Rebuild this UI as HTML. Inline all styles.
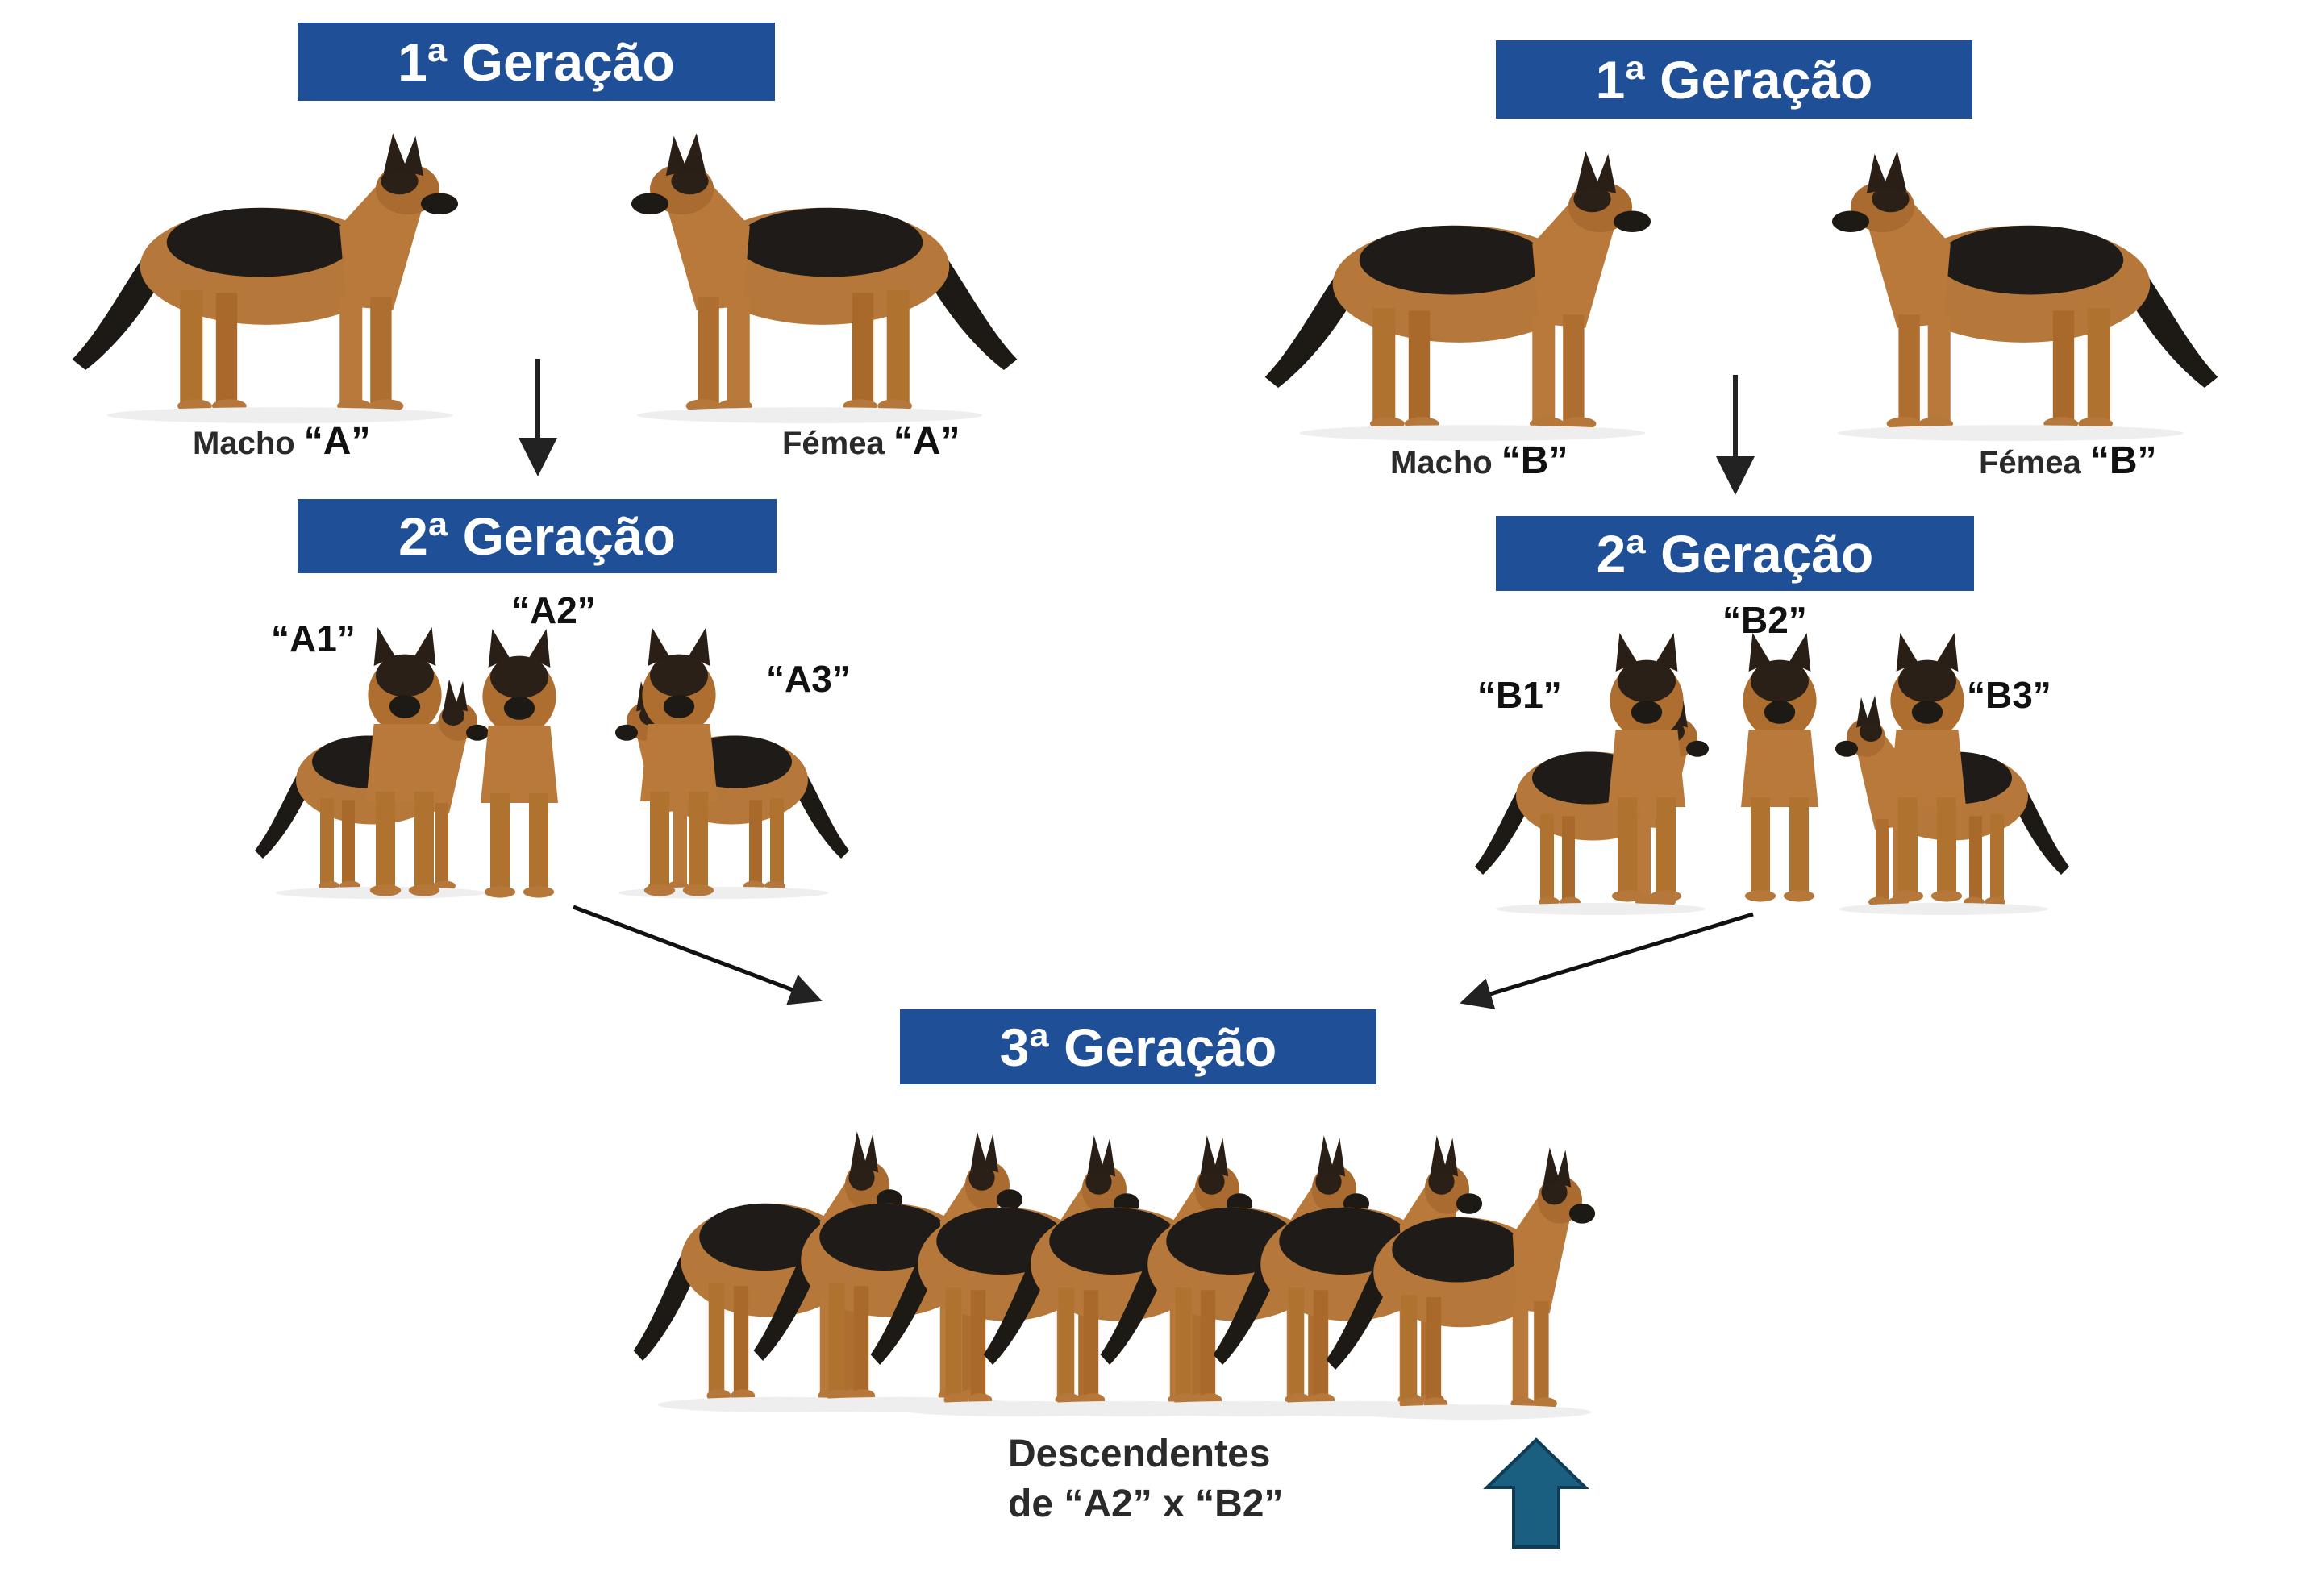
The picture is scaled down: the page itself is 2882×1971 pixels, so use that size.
<!DOCTYPE html>
<html><head><meta charset="utf-8">
<style>
html,body{margin:0;padding:0;background:#fff;}
body{width:2882px;height:1971px;position:relative;overflow:hidden;font-family:"Liberation Sans",sans-serif;}
.box{position:absolute;background:#1f4f97;color:#fff;font-weight:bold;font-size:66px;display:flex;align-items:center;justify-content:center;}
.lbl{position:absolute;font-weight:bold;color:#2a2a2a;font-size:40px;white-space:nowrap;}
.lbl b{font-size:48px;color:#111;}
.q{position:absolute;font-weight:bold;color:#111;font-size:46px;white-space:nowrap;}
svg{position:absolute;left:0;top:0;}
</style></head><body>
<svg width="2882" height="1971" viewBox="0 0 2882 1971">
<defs>
<g id="dog">
  <path d="M62,88 C40,120 25,150 4,172 L14,180 C40,160 62,130 78,100 Z" fill="#1d1a16"/>
  <ellipse cx="150" cy="102" rx="95" ry="44" fill="#b6783a"/>
  <ellipse cx="145" cy="84" rx="70" ry="26" fill="#1e1b18"/>
  <polygon points="205,72 245,28 268,55 245,135 210,132" fill="#b8793b"/>
  <ellipse cx="256" cy="44" rx="24" ry="19" fill="#a96b30"/>
  <ellipse cx="250" cy="38" rx="14" ry="10" fill="#2a2018"/>
  <ellipse cx="280" cy="55" rx="14" ry="8" fill="#1d1a16"/>
  <polygon points="238,32 245,2 256,30" fill="#2a1f16"/>
  <polygon points="252,30 262,4 268,34" fill="#2a1f16"/>
  <rect x="85" y="120" width="17" height="85" fill="#b0722f"/>
  <rect x="112" y="122" width="16" height="83" fill="#a9692a"/>
  <rect x="205" y="125" width="17" height="80" fill="#b8793b"/>
  <rect x="228" y="125" width="16" height="80" fill="#ad6e30"/>
  <ellipse cx="96" cy="207" rx="13" ry="5" fill="#b6783a"/>
  <ellipse cx="122" cy="207" rx="13" ry="5" fill="#b6783a"/>
  <ellipse cx="216" cy="207" rx="13" ry="5" fill="#b6783a"/>
  <ellipse cx="240" cy="207" rx="13" ry="5" fill="#b6783a"/>
  <ellipse cx="160" cy="214" rx="130" ry="6" fill="#eee"/>
</g>
<g id="front">
  <ellipse cx="60" cy="70" rx="38" ry="40" fill="#ad6e30"/>
  <ellipse cx="60" cy="50" rx="30" ry="22" fill="#2a2018"/>
  <ellipse cx="60" cy="82" rx="16" ry="12" fill="#1d1a16"/>
  <polygon points="28,40 32,0 50,30" fill="#2a1f16"/>
  <polygon points="92,40 88,0 70,30" fill="#2a1f16"/>
  <path d="M28,100 L92,100 L100,180 L20,180 Z" fill="#b8793b"/>
  <rect x="30" y="170" width="20" height="100" fill="#b0722f"/>
  <rect x="70" y="170" width="20" height="100" fill="#b0722f"/>
  <ellipse cx="40" cy="272" rx="16" ry="6" fill="#b6783a"/>
  <ellipse cx="80" cy="272" rx="16" ry="6" fill="#b6783a"/>
</g>
<marker id="ah" markerWidth="8" markerHeight="8" refX="7" refY="4" orient="auto" markerUnits="strokeWidth"><path d="M0,0 L8,4 L0,8 Z" fill="#222"/></marker>
</defs>

<use href="#dog" transform="translate(83,162) scale(1.65)"/>
<use href="#dog" transform="translate(1268,162) scale(-1.65,1.65)"/>
<use href="#dog" transform="translate(1562,184) scale(1.65)"/>
<use href="#dog" transform="translate(2757,184) scale(-1.65,1.65)"/>

<g>
<use href="#dog" transform="translate(312,840) scale(1.0,1.25)"/>
<use href="#dog" transform="translate(1057,840) scale(-1.0,1.25)"/>
<use href="#front" transform="translate(430,778) scale(1.2)"/>
<use href="#front" transform="translate(572,780) scale(1.2)"/>
<use href="#front" transform="translate(770,778) scale(1.2)"/>
</g>
<g>
<use href="#dog" transform="translate(1825,860) scale(1.0,1.25)"/>
<use href="#dog" transform="translate(2570,860) scale(-1.0,1.25)"/>
<use href="#front" transform="translate(1970,785) scale(1.2)"/>
<use href="#front" transform="translate(2135,785) scale(1.2)"/>
<use href="#front" transform="translate(2318,785) scale(1.2)"/>
</g>
<use href="#dog" transform="translate(781,1400) scale(1.15,1.6)"/>
<use href="#dog" transform="translate(930,1400) scale(1.15,1.6)"/>
<use href="#dog" transform="translate(1075,1405) scale(1.15,1.6)"/>
<use href="#dog" transform="translate(1215,1405) scale(1.15,1.6)"/>
<use href="#dog" transform="translate(1360,1405) scale(1.15,1.6)"/>
<use href="#dog" transform="translate(1500,1405) scale(1.15,1.6)"/>
<use href="#dog" transform="translate(1640,1420) scale(1.15,1.55)"/>

<line x1="667" y1="445" x2="667" y2="585" stroke="#222" stroke-width="6" marker-end="url(#ah)"/>
<line x1="2152" y1="465" x2="2152" y2="608" stroke="#222" stroke-width="6" marker-end="url(#ah)"/>
<line x1="711" y1="1125" x2="1015" y2="1240" stroke="#111" stroke-width="5" marker-end="url(#ah)"/>
<line x1="2174" y1="1134" x2="1815" y2="1243" stroke="#111" stroke-width="5" marker-end="url(#ah)"/>
<polygon points="1905,1786 1966,1845 1933,1845 1933,1919 1877,1919 1877,1845 1844,1845" fill="#1a5e80" stroke="#0f3d57" stroke-width="4"/>
</svg>

<div class="box" style="left:369px;top:28px;width:592px;height:97px;">1ª Geração</div>
<div class="box" style="left:1855px;top:50px;width:591px;height:97px;">1ª Geração</div>
<div class="box" style="left:369px;top:619px;width:594px;height:92px;">2ª Geração</div>
<div class="box" style="left:1855px;top:640px;width:593px;height:93px;">2ª Geração</div>
<div class="box" style="left:1116px;top:1252px;width:591px;height:93px;">3ª Geração</div>

<div class="lbl" style="left:239px;top:520px;">Macho <b>“A”</b></div>
<div class="lbl" style="left:970px;top:520px;">Fémea <b>“A”</b></div>
<div class="lbl" style="left:1724px;top:544px;">Macho <b>“B”</b></div>
<div class="lbl" style="left:2454px;top:544px;">Fémea <b>“B”</b></div>

<div class="q" style="left:336px;top:765px;">“A1”</div>
<div class="q" style="left:634px;top:730px;">“A2”</div>
<div class="q" style="left:950px;top:815px;">“A3”</div>
<div class="q" style="left:1832px;top:835px;">“B1”</div>
<div class="q" style="left:2136px;top:742px;">“B2”</div>
<div class="q" style="left:2439px;top:835px;">“B3”</div>

<div class="lbl" style="left:1250px;top:1776px;font-size:48px;">Descendentes</div>
<div class="lbl" style="left:1250px;top:1838px;font-size:48px;">de “A2” x “B2”</div>
</body></html>
